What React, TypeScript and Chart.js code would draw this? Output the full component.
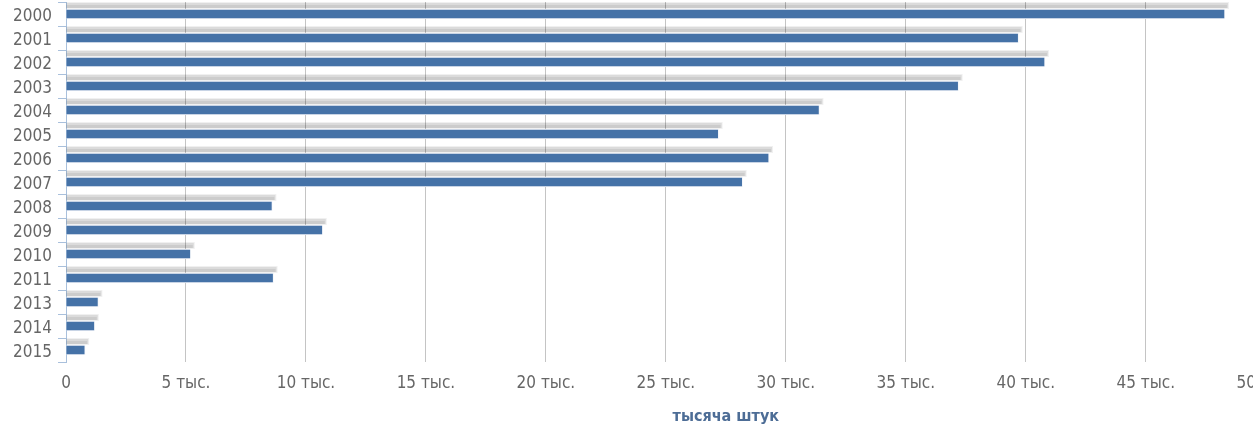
import React, { useEffect, useRef } from "react";
import { Chart, registerables } from "chart.js";

Chart.register(...registerables);

const years = ["2000", "2001", "2002", "2003", "2004", "2005", "2006", "2007", "2008", "2009", "2010", "2011", "2013", "2014", "2015"];
const values = [48300, 39700, 40800, 37200, 31400, 27200, 29300, 28200, 8600, 10700, 5200, 8650, 1350, 1200, 800];
const axisTitle = "тысяча штук";
const tickSuffix = " тыс.";

const FONT = "'DejaVu Sans Condensed', 'DejaVu Sans', sans-serif";

// Soft gray "3D" shadow drawn above-right of each bar, from the bar elements' own geometry
const shadowPlugin = {
  id: "barShadow",
  beforeDatasetsDraw(chart: any) {
    const ctx = chart.ctx;
    const meta = chart.getDatasetMeta(0);
    ctx.save();
    meta.data.forEach((el: any) => {
      const p = el.getProps(["x", "y", "base", "height"], true);
      const top = p.y - p.height / 2;
      const left = Math.min(p.base, p.x);
      const right = Math.max(p.base, p.x);
      ctx.fillStyle = "rgba(0,0,0,0.06)";
      ctx.fillRect(left, top - 7, right - left + 4, 7);
      ctx.fillStyle = "rgba(0,0,0,0.09)";
      ctx.fillRect(left, top - 6, right - left + 3, 5);
      ctx.fillStyle = "rgba(0,0,0,0.07)";
      ctx.fillRect(left, top - 4, right - left + 2, 3);
    });
    ctx.restore();
  },
};

export default function App() {
  const ref = useRef<HTMLCanvasElement>(null);
  useEffect(() => {
    document.body.style.overflow = "hidden";
    const chart = new Chart(ref.current!, {
      type: "bar",
      data: {
        labels: years,
        datasets: [
          {
            data: values,
            backgroundColor: "#4572A7",
            borderColor: "#f4f6fa",
            borderWidth: 1,
            barThickness: 10,
          },
        ],
      },
      plugins: [shadowPlugin],
      options: {
        indexAxis: "y",
        animation: false,
        responsive: false,
        maintainAspectRatio: false,
        layout: { padding: { left: 0, right: 40, top: 2, bottom: 0 } },
        plugins: { legend: { display: false }, tooltip: { enabled: false } },
        scales: {
          x: {
            min: 0,
            max: 55000,
            ticks: {
              stepSize: 5000,
              color: "#666666",
              padding: 11,
              font: { family: FONT, size: 17 },
              callback: (v: any) => (Number(v) === 0 ? "0" : Number(v) / 1000 + tickSuffix),
            },
            grid: { color: "#c4c4c4", lineWidth: 1, drawTicks: false },
            border: { display: false },
            title: {
              display: true,
              text: axisTitle,
              color: "#4d6d96",
              font: { family: FONT, size: 16, weight: "bold" },
              padding: { top: 0, bottom: 1 },
            },
            afterFit: (s: any) => {
              s.height = 65;
            },
          },
          y: {
            ticks: {
              color: "#666666",
              padding: 6,
              labelOffset: 3,
              autoSkip: false,
              font: { family: FONT, size: 17 },
            },
            grid: {
              offset: true,
              drawOnChartArea: false,
              tickLength: 8,
              color: "#a9c0dc",
            },
            border: { display: true, color: "#a9c0dc", width: 1 },
            afterFit: (s: any) => {
              s.width = 66;
              s.paddingTop = 0;
              s.paddingBottom = 0;
            },
          },
        },
      },
    });
    return () => chart.destroy();
  }, []);
  return (
    <div style={{ position: "absolute", left: 0, top: 0, width: 1253, height: 427, overflow: "hidden", background: "#fff" }}>
      <canvas ref={ref} width={1426} height={427} style={{ width: 1426, height: 427, display: "block" }} />
    </div>
  );
}
